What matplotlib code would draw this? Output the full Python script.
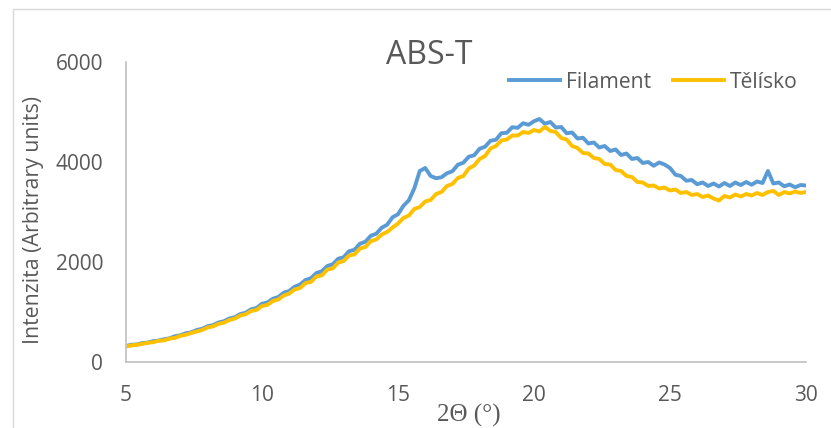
import numpy as np
import matplotlib
matplotlib.use("Agg")
import matplotlib.pyplot as plt
from matplotlib.patches import Rectangle

# Diffraction angle grid (degrees 2-theta)
two_theta = np.round(np.arange(5.0, 30.0001, 0.2), 1)

# Intensity of the filament sample
filament = [
    320, 345, 352, 378, 388, 418, 428, 455, 474, 515,
    534, 575, 594, 640, 664, 715, 738, 790, 815, 870,
    895, 958, 985, 1055, 1080, 1165, 1190, 1265, 1300, 1385,
    1420, 1505, 1550, 1640, 1675, 1780, 1815, 1920, 1955, 2065,
    2095, 2215, 2245, 2365, 2405, 2525, 2565, 2685, 2745, 2895,
    2955, 3125, 3235, 3475, 3820, 3880, 3720, 3675, 3695, 3775,
    3815, 3945, 3985, 4105, 4135, 4265, 4305, 4425, 4445, 4575,
    4585, 4695, 4685, 4775, 4745, 4815, 4860, 4765, 4800, 4690,
    4700, 4575, 4590, 4470, 4485, 4370, 4390, 4290, 4320, 4220,
    4250, 4140, 4170, 4060, 4080, 3980, 4000, 3925, 3990, 3950,
    3880, 3745, 3720, 3625, 3640, 3555, 3590, 3520, 3570, 3510,
    3580, 3520, 3590, 3540, 3600, 3545, 3610, 3580, 3820, 3570,
    3590, 3515, 3550, 3495, 3540, 3530,
]

# Intensity of the printed specimen
telisko = [
    310, 332, 345, 362, 384, 396, 424, 432, 468, 482,
    524, 545, 580, 612, 640, 690, 712, 764, 786, 840,
    868, 930, 955, 1020, 1042, 1120, 1142, 1220, 1250, 1330,
    1368, 1450, 1480, 1578, 1602, 1710, 1732, 1848, 1872, 1988,
    2020, 2130, 2152, 2268, 2300, 2418, 2450, 2550, 2600, 2690,
    2770, 2880, 2930, 3060, 3100, 3210, 3240, 3360, 3400, 3520,
    3560, 3680, 3720, 3870, 3930, 4060, 4120, 4270, 4320, 4430,
    4450, 4530, 4530, 4600, 4580, 4640, 4610, 4700, 4620, 4600,
    4480, 4450, 4320, 4280, 4180, 4170, 4080, 4060, 3960, 3950,
    3840, 3820, 3720, 3700, 3600, 3590, 3520, 3530, 3470, 3490,
    3430, 3450, 3380, 3400, 3340, 3360, 3300, 3330, 3270, 3230,
    3320, 3290, 3350, 3310, 3360, 3330, 3380, 3340, 3400, 3420,
    3340, 3400, 3370, 3410, 3380, 3400,
]

x_ticks = [5, 10, 15, 20, 25, 30]
y_ticks = [0, 2000, 4000, 6000]

BLUE = "#5B9BD5"
GOLD = "#FFC000"
TEXT = "#595959"
AXIS = "#BFBFBF"
FONT = ["Open Sans", "DejaVu Sans"]

plt.rcParams["font.family"] = FONT

W, H = 831, 428
fig = plt.figure(figsize=(W / 100, H / 100), dpi=100)

# chart area border
fig.patches.append(Rectangle((12.5 / W, -0.1), 1.2, 1.1 - 9 / H,
                             transform=fig.transFigure, fill=False,
                             ec="#D9D9D9", lw=1.0))

ax = fig.add_axes([126 / W, 66 / H, 680 / W, 300 / H])
ax.plot(two_theta, filament, color=BLUE, lw=2.8, label="Filament",
        solid_joinstyle="round")
ax.plot(two_theta, telisko, color=GOLD, lw=2.8, label="Tělísko",
        solid_joinstyle="round")

ax.set_xlim(5, 30)
ax.set_ylim(0, 6000)
ax.set_xticks(x_ticks)
ax.set_yticks(y_ticks)
ax.tick_params(length=0, labelsize=15, colors=TEXT, pad=16.5)
ax.tick_params(axis="y", pad=16.5)
for s in ("top", "right"):
    ax.spines[s].set_visible(False)
for s in ("left", "bottom"):
    ax.spines[s].set_color(AXIS)
    ax.spines[s].set_linewidth(1.2)

ax.set_ylabel("Intenzita (Arbitrary units)", fontsize=15.3, color=TEXT)
ax.yaxis.set_label_coords(-82 / 680, 0.475)
fig.text(469 / W, 1 - 415 / H, "2Θ (°)", ha="center", va="center",
         fontsize=18, color=TEXT, family=["Liberation Serif", "DejaVu Serif"])

fig.text(429 / W, 1 - 56 / H, "ABS-T", ha="center", va="center",
         fontsize=23, color=TEXT)

leg = ax.legend(loc="center right", bbox_to_anchor=(1 - 8 / 680, (362 - 82) / 300),
                ncol=2, frameon=False, fontsize=15.2, handlelength=2.4,
                handletextpad=0.3, columnspacing=1.05, borderaxespad=0,
                borderpad=0)
for t in leg.get_texts():
    t.set_color(TEXT)

fig.savefig("out.png", dpi=100)
